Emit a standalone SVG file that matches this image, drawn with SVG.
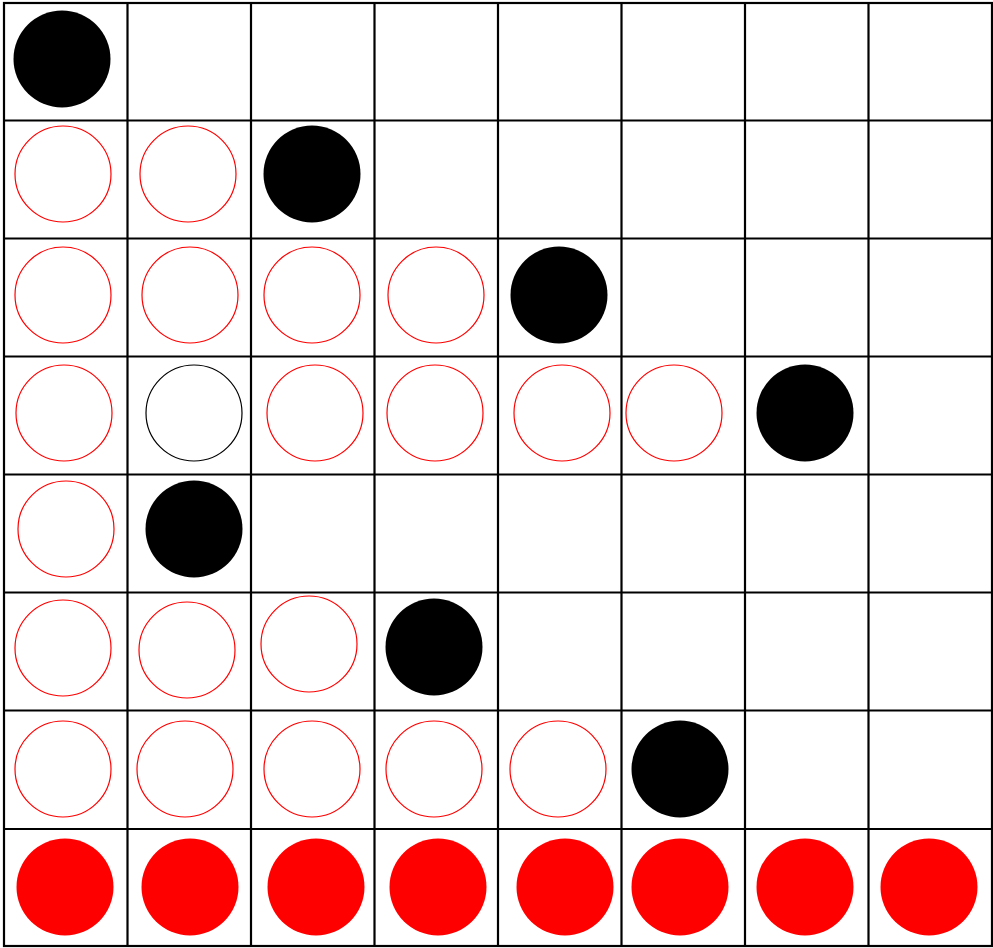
<svg xmlns="http://www.w3.org/2000/svg" width="993" height="948" viewBox="0 0 993 948">
<style>
.g{stroke:#000;stroke-width:2.2;fill:none}
.b{fill:#000}
.ro{fill:none;stroke:#f00;stroke-width:1.2}
.bo{fill:none;stroke:#000;stroke-width:1.2}
.rf{fill:#f00}
</style>
<rect width="993" height="948" fill="#fff"/>
<g id="grid" class="g">
<rect x="4" y="3" width="988" height="943"/>
<path d="M127.5 3V946M251 3V946M374.5 3V946M498 3V946M621.5 3V946M745 3V946M868.5 3V946"/>
<path d="M4 120.5H992M4 238.5H992M4 356.5H992M4 474.5H992M4 592.5H992M4 710.5H992M4 829H992"/>
</g>
<g id="pieces">
<circle class="b" cx="62" cy="59" r="48.5"/>
<circle class="ro" cx="63" cy="174" r="48"/>
<circle class="ro" cx="188" cy="174" r="48"/>
<circle class="b" cx="312" cy="174" r="48.5"/>
<circle class="ro" cx="63" cy="295" r="48"/>
<circle class="ro" cx="190" cy="295" r="48"/>
<circle class="ro" cx="312" cy="295" r="48"/>
<circle class="ro" cx="436" cy="295" r="48"/>
<circle class="b" cx="559" cy="295" r="48.5"/>
<circle class="ro" cx="64" cy="413" r="48"/>
<circle class="bo" cx="194" cy="413" r="48"/>
<circle class="ro" cx="315" cy="413" r="48"/>
<circle class="ro" cx="435" cy="413" r="48"/>
<circle class="ro" cx="562" cy="413" r="48"/>
<circle class="ro" cx="674" cy="413" r="48"/>
<circle class="b" cx="805" cy="413" r="48.5"/>
<circle class="ro" cx="66" cy="529" r="48"/>
<circle class="b" cx="194" cy="529" r="48.5"/>
<circle class="ro" cx="63" cy="648" r="48"/>
<circle class="ro" cx="187" cy="650" r="48"/>
<circle class="ro" cx="309" cy="644" r="48"/>
<circle class="b" cx="434" cy="647" r="48.5"/>
<circle class="ro" cx="63" cy="769" r="48"/>
<circle class="ro" cx="185" cy="769" r="48"/>
<circle class="ro" cx="312" cy="769" r="48"/>
<circle class="ro" cx="434" cy="769" r="48"/>
<circle class="ro" cx="558" cy="769" r="48"/>
<circle class="b" cx="680" cy="769" r="48.5"/>
<circle class="rf" cx="65" cy="887" r="48.5"/>
<circle class="rf" cx="190" cy="887" r="48.5"/>
<circle class="rf" cx="316" cy="887" r="48.5"/>
<circle class="rf" cx="438" cy="887" r="48.5"/>
<circle class="rf" cx="565" cy="887" r="48.5"/>
<circle class="rf" cx="680" cy="887" r="48.5"/>
<circle class="rf" cx="805" cy="887" r="48.5"/>
<circle class="rf" cx="929" cy="887" r="48.5"/>
</g>
</svg>
